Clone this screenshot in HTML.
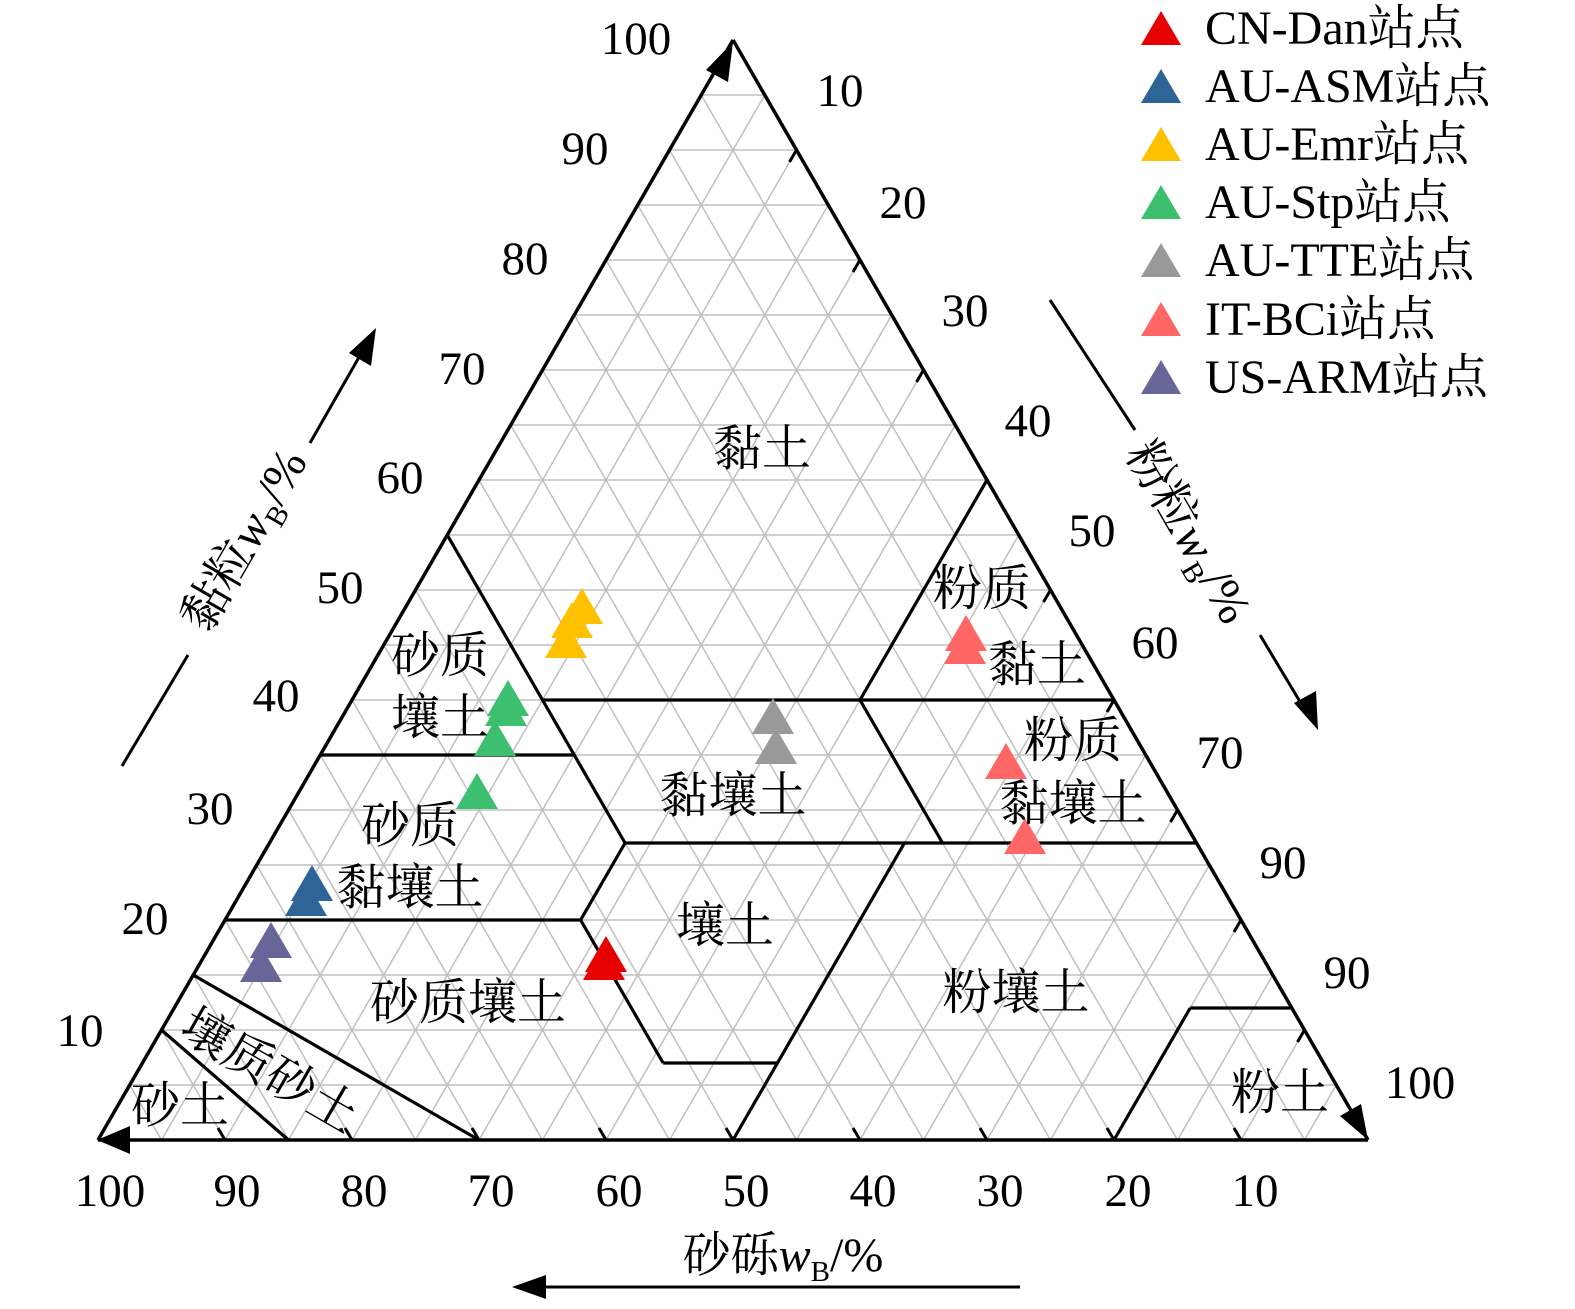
<!DOCTYPE html>
<html><head><meta charset="utf-8"><style>
html,body{margin:0;padding:0;background:#fff;}
svg{display:block;}
text{font-family:"Liberation Serif","Noto Serif CJK SC",serif;fill:#000;}
</style></head><body>
<svg id="s" width="1575" height="1309" viewBox="0 0 1575 1309" xmlns="http://www.w3.org/2000/svg">
<g id="grid" stroke="#c0c0c0" stroke-width="1.5"></g>
<g id="bnd" stroke="#000" stroke-width="3.2" fill="none"></g>
<g id="ticks" stroke="#000" stroke-width="3"></g>
<g id="marks"></g>
<g font-size="47" text-anchor="middle">
<text x="636" y="54">100</text><text x="585" y="164">90</text><text x="525" y="274">80</text>
<text x="462" y="384">70</text><text x="400" y="493">60</text><text x="340" y="603">50</text>
<text x="276" y="711">40</text><text x="210" y="824">30</text><text x="145" y="934">20</text>
<text x="80" y="1046">10</text>
<text x="840" y="106">10</text><text x="903" y="218">20</text><text x="965" y="326">30</text>
<text x="1028" y="436">40</text><text x="1092" y="546">50</text><text x="1155" y="658">60</text>
<text x="1220" y="768">70</text><text x="1283" y="878">90</text><text x="1347" y="988">90</text>
<text x="1420" y="1098">100</text>
<text x="110" y="1206">100</text><text x="237" y="1206">90</text><text x="364" y="1206">80</text>
<text x="491" y="1206">70</text><text x="619" y="1206">60</text><text x="746" y="1206">50</text>
<text x="873" y="1206">40</text><text x="1000" y="1206">30</text><text x="1128" y="1206">20</text>
<text x="1255" y="1206">10</text>
</g>
<g font-size="49" text-anchor="middle">
<text x="762" y="465">黏土</text>
<text x="982" y="605">粉质</text><text x="1037" y="681">黏土</text>
<text x="440" y="672">砂质</text><text x="440" y="734">壤土</text>
<text x="733" y="812">黏壤土</text>
<text x="1073" y="757">粉质</text><text x="1073" y="820">黏壤土</text>
<text x="410" y="842">砂质</text><text x="410" y="904">黏壤土</text>
<text x="725" y="942">壤土</text>
<text x="468" y="1019">砂质壤土</text>
<text x="1016" y="1009">粉壤土</text>
<text x="1280" y="1109">粉土</text>
<text x="180" y="1122">砂土</text>
<text x="270" y="1087" transform="rotate(30 270 1070)">壤质砂土</text>
</g>
<g font-size="48">
<text transform="translate(258,548) rotate(-60)" text-anchor="middle">黏粒<tspan font-style="italic">w</tspan><tspan font-size="29" dy="10">B</tspan><tspan dy="-10">/%</tspan></text>
<text transform="translate(1175,540) rotate(60)" text-anchor="middle">粉粒<tspan font-style="italic">w</tspan><tspan font-size="29" dy="10">B</tspan><tspan dy="-10">/%</tspan></text>
<text x="783" y="1271" text-anchor="middle">砂砾<tspan font-style="italic">w</tspan><tspan font-size="29" dy="10">B</tspan><tspan dy="-10">/%</tspan></text>
</g>
<g stroke="#000" stroke-width="3" fill="none">
<line x1="122" y1="766" x2="188" y2="655"/><line x1="310" y1="443" x2="366" y2="345"/>
<line x1="1050" y1="300" x2="1135" y2="430"/><line x1="1260" y1="635" x2="1308" y2="715"/>
<line x1="1020" y1="1287" x2="530" y2="1287"/>
</g>
<g fill="#000">
<polygon points="376,328 371,366 349,353"/>
<polygon points="1318,730 1294,703 1316,691"/>
<polygon points="512,1287 546,1275 546,1299"/>
</g>
<g font-size="48">
<text x="1205" y="44">CN-Dan站点</text><text x="1205" y="102">AU-ASM站点</text>
<text x="1205" y="160">AU-Emr站点</text><text x="1205" y="218">AU-Stp站点</text>
<text x="1205" y="276">AU-TTE站点</text><text x="1205" y="335">IT-BCi站点</text>
<text x="1205" y="393">US-ARM站点</text>
</g>
</svg>
<script>
var NS="http://www.w3.org/2000/svg";
var T=[733,40],L=[98,1140],R=[1368,1140];
function P(c,s){var t=100-c-s;return [(L[0]*s+R[0]*t+T[0]*c)/100,(L[1]*s+R[1]*t+T[1]*c)/100];}
function ln(g,a,b,extra){var e=document.createElementNS(NS,"line");e.setAttribute("x1",a[0]);e.setAttribute("y1",a[1]);e.setAttribute("x2",b[0]);e.setAttribute("y2",b[1]);if(extra)for(var k in extra)e.setAttribute(k,extra[k]);document.getElementById(g).appendChild(e);}
for(var i=5;i<100;i+=5){
 ln("grid",P(i,0),P(i,100-i));
 ln("grid",P(0,i),P(100-i,i));
 ln("grid",P(0,100-i),P(100-i,0));
}
var B=[[[55,45],[27,45]],[[40,45],[40,20]],[[40,20],[60,0]],[[40,20],[40,0]],[[40,20],[27,20]],
[[35,65],[35,45]],[[27,45],[27,0]],[[20,80],[20,52]],[[20,52],[27,45]],[[20,52],[7,52]],[[7,52],[7,43]],
[[0,50],[27,23]],[[0,20],[12,8]],[[12,8],[12,0]],[[15,85],[0,70]],[[10,90],[0,85]]];
B.forEach(function(b){ln("bnd",P(b[0][0],b[0][1]),P(b[1][0],b[1][1]));});
ln("bnd",L,T,{"stroke-width":3.5});ln("bnd",T,R,{"stroke-width":3.5});ln("bnd",R,L,{"stroke-width":3.5});
for(var i=10;i<100;i+=10){
 var p=P(0,i);ln("ticks",p,[p[0]-7,p[1]-12]);
 p=P(100-i,0);ln("ticks",p,[p[0]-7,p[1]+12]);
}
var ah=document.getElementById("marks");
function tri(x,y,col,w,h){var e=document.createElementNS(NS,"polygon");w=w||21;h=h||20;
 e.setAttribute("points",(x)+","+(y-h)+" "+(x-w)+","+(y+16)+" "+(x+w)+","+(y+16));e.setAttribute("fill",col);ah.appendChild(e);}
function ptri(pts){var e=document.createElementNS(NS,"polygon");e.setAttribute("points",pts);e.setAttribute("fill","#000");ah.appendChild(e);}
ptri("733,42 706,70 728,82");ptri("1368,1140 1340,1116 1361,1104");ptri("97,1140 130,1126 130,1154");
var M={"#e60000":[[606,956],[604,964]],"#2e6496":[[312,885],[306,900]],"#ffc000":[[582,608],[572,622],[566,642]],
"#3cbf6e":[[508,700],[506,710],[495,740],[477,793]],"#999999":[[773,718],[776,748]],
"#ff6666":[[966,635],[965,648],[1006,763],[1025,838]],"#666699":[[271,942],[261,966]]};
for(var c in M)M[c].forEach(function(p){tri(p[0],p[1],c);});
var lc=["#e60000","#2e6496","#ffc000","#3cbf6e","#999999","#ff6666","#666699"],ly=[27,85,143,201,259,318,376];
lc.forEach(function(c,i){tri(1161,ly[i]+2,c,20,18);});
</script>
</body></html>
